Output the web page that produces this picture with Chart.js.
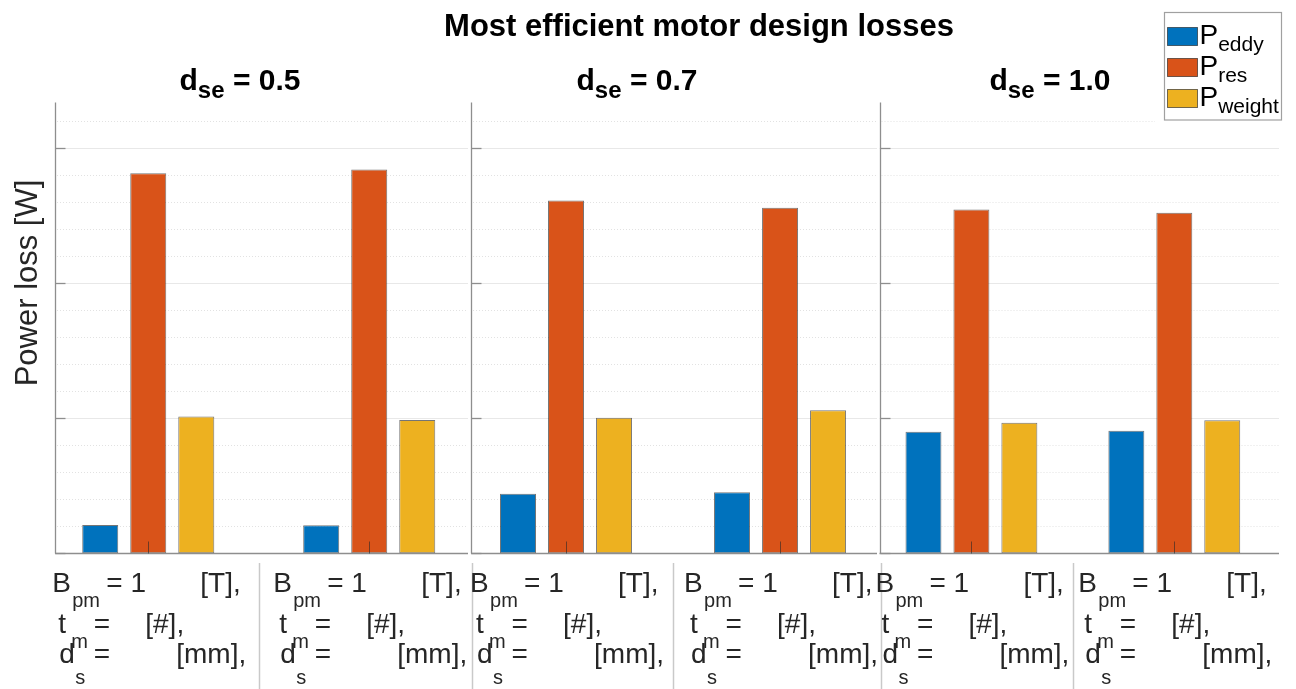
<!DOCTYPE html>
<html>
<head>
<meta charset="utf-8">
<script src="https://cdn.jsdelivr.net/npm/chart.js@4.4.1/dist/chart.umd.min.js"></script>
<style>
  html, body { margin: 0; padding: 0; background: #fff; }
  #wrap { position: relative; width: 1296px; height: 689px; overflow: hidden; background: #fff; }
  #wrap canvas { position: absolute; left: 0; top: 0; }
</style>
</head>
<body>
<div id="wrap">
  <canvas id="panel0" width="1296" height="689"></canvas>
  <canvas id="panel1" width="1296" height="689"></canvas>
  <canvas id="panel2" width="1296" height="689"></canvas>
</div>
<script>
// ---- data -------------------------------------------------------------
// stator end distance of each panel
const dseValues = ['0.5', '0.7', '1.0'];
// which panel each design belongs to (two designs per panel)
const designPanel = [0, 0, 1, 1, 2, 2];
// design index inside its panel (x position on the panel axis)
const designSlot = [1, 2, 1, 2, 1, 2];
// loss components per design [W]
const pEddy   = [1.05, 1.04, 2.21, 2.26, 4.50, 4.54];
const pRes    = [14.08, 14.22, 13.07, 12.80, 12.74, 12.62];
const pWeight = [5.07, 4.94, 5.02, 5.30, 4.84, 4.93];
const seriesSubs = ['eddy', 'res', 'weight'];
// y axis ticks (labels hidden)
const yMajorTicks = [0, 5, 10, 15];
const yMinorTicks = [1, 2, 3, 4, 6, 7, 8, 9, 11, 12, 13, 14, 16];
const yMax = 16.7;
// design tick label rows: symbol, subscript, "=" part, unit
const designLabelRows = [
  ['B', 'pm', '= 1', '[T],'],
  ['t', 'm', '=', '[#],'],
  ['d', 's', '=', '[mm],']
];

// ---- styling / layout ---------------------------------------------------
const FONT = "'Liberation Sans', Arial, Helvetica, sans-serif";
const COLORS = ['#0072BD', '#D95319', '#EDB120'];
const EDGE = 'rgba(25,25,25,0.6)';
const PLOT_TOP = 102.5, PLOT_BOTTOM = 553.3;
const PANELS = [
  { left: 55,    right: 468,  xMin: 0.578, xMax: 2.447, cat: 0.652, titleX: 240 },
  { left: 471,   right: 877,  xMin: 0.556, xMax: 2.453, cat: 0.673, titleX: 637 },
  { left: 879.5, right: 1279, xMin: 0.547, xMax: 2.516, cat: 0.709, titleX: 1050 }
];
const LABEL = {
  main: 28, sub: 20, shift: -96,
  rows: [
    { base: 592, subBase: 607, main: 0, sub: 20, eq: 54,   unit: 148 },
    { base: 633, subBase: 648, main: 6, sub: 19, eq: 41.5, unit: 93 },
    { base: 663, subBase: 684, main: 7, sub: 23, eq: 41.5, unit: 124 }
  ]
};

function line(ctx, x1, y1, x2, y2) {
  ctx.beginPath(); ctx.moveTo(x1, y1); ctx.lineTo(x2, y2); ctx.stroke();
}

// text with a lowered, smaller subscript; returns total width
function subText(ctx, x, y, main, sub, rest, mainPx, subPx, drop, bold, align) {
  const w = bold ? 'bold ' : '';
  const fm = w + mainPx + 'px ' + FONT, fs = w + subPx + 'px ' + FONT;
  ctx.font = fm; const w1 = ctx.measureText(main).width;
  const w3 = rest ? ctx.measureText(rest).width : 0;
  ctx.font = fs; const w2 = ctx.measureText(sub).width;
  const total = w1 + w2 + w3;
  const x0 = align === 'center' ? x - total / 2 : x;
  ctx.textAlign = 'left'; ctx.textBaseline = 'alphabetic';
  ctx.font = fm; ctx.fillText(main, x0, y);
  ctx.font = fs; ctx.fillText(sub, x0 + w1, y + drop);
  if (rest) { ctx.font = fm; ctx.fillText(rest, x0 + w1 + w2, y); }
  return total;
}

function makeDecor(pi) {
  return {
    id: 'decor' + pi,
    // grid: dotted minor lines, solid major lines
    beforeDatasetsDraw(chart) {
      const { ctx, chartArea: a, scales: { y } } = chart;
      ctx.save();
      ctx.lineWidth = 1;
      ctx.strokeStyle = '#e2e2e2';
      ctx.setLineDash([1, 2]);
      yMinorTicks.forEach(v => {
        const py = Math.round(y.getPixelForValue(v)) + 0.5;
        line(ctx, a.left + 2, py, a.right, py);
      });
      ctx.setLineDash([]);
      ctx.strokeStyle = '#e8e8e8';
      yMajorTicks.forEach(v => {
        if (v === 0) return;
        const py = Math.round(y.getPixelForValue(v)) + 0.5;
        line(ctx, a.left, py, a.right, py);
      });
      ctx.restore();
    },
    afterDatasetsDraw(chart) {
      const { ctx, chartArea: a, scales: { x, y } } = chart;
      ctx.save();
      const x0 = Math.round(a.left) + 0.5;
      const yb = Math.round(y.getPixelForValue(0)) + 0.5;
      // axis lines and inward ticks
      ctx.strokeStyle = '#8e8e8e';
      ctx.lineWidth = 1.3;
      line(ctx, x0, a.top, x0, yb);
      line(ctx, a.left, yb, a.right, yb);
      yMajorTicks.forEach(v => {
        const py = Math.round(y.getPixelForValue(v)) + 0.5;
        line(ctx, x0, py, x0 + 10, py);
      });
      ctx.strokeStyle = 'rgba(40,40,40,0.6)';
      ctx.lineWidth = 1;
      x.ticks.forEach(t => {
        const px = Math.round(x.getPixelForValue(t.value)) + 0.5;
        line(ctx, px, yb, px, yb - 12);
      });
      // separators in the label band
      ctx.strokeStyle = '#c9c9c9';
      ctx.lineWidth = 1.5;
      const mid = x.getPixelForValue(1.5);
      line(ctx, Math.round(mid) + 0.5, 563, Math.round(mid) + 0.5, 689);
      if (pi > 0) line(ctx, x0 + 1, 563, x0 + 1, 689);
      // design tick labels
      ctx.fillStyle = '#262626';
      x.ticks.forEach(t => {
        const ox = x.getPixelForValue(t.value) + LABEL.shift;
        designLabelRows.forEach((row, r) => {
          const L = LABEL.rows[r];
          ctx.textAlign = 'left'; ctx.textBaseline = 'alphabetic';
          ctx.font = LABEL.main + 'px ' + FONT;
          ctx.fillText(row[0], ox + L.main, L.base);
          ctx.fillText(row[2], ox + L.eq, L.base);
          ctx.fillText(row[3], ox + L.unit, L.base);
          ctx.font = LABEL.sub + 'px ' + FONT;
          ctx.fillText(row[1], ox + L.sub, L.subBase);
        });
      });
      // panel title
      ctx.fillStyle = '#000';
      subText(ctx, PANELS[pi].titleX, 90, 'd', 'se', ' = ' + dseValues[pi], 30, 24, 8, true, 'center');

      if (pi === 0) {
        ctx.fillStyle = '#000';
        ctx.font = 'bold 31px ' + FONT;
        ctx.textAlign = 'center'; ctx.textBaseline = 'alphabetic';
        ctx.fillText('Most efficient motor design losses', 699, 36);
        ctx.save();
        ctx.translate(36.5, 283);
        ctx.rotate(-Math.PI / 2);
        ctx.fillStyle = '#262626';
        ctx.font = '31px ' + FONT;
        ctx.fillText('Power loss [W]', 0, 0);
        ctx.restore();
      }
      if (pi === 2) {
        // legend
        ctx.fillStyle = '#fff';
        ctx.fillRect(1155, 6, 135, 117);
        ctx.strokeStyle = '#a0a0a0';
        ctx.lineWidth = 1.2;
        ctx.strokeRect(1164.5, 12.5, 117, 107.5);
        chart.data.datasets.forEach((ds, k) => {
          const top = 27.5 + 31 * k;
          ctx.fillStyle = ds.backgroundColor;
          ctx.fillRect(1167.5, top, 30, 18);
          ctx.strokeStyle = EDGE; ctx.lineWidth = 1;
          ctx.strokeRect(1167.5, top, 30, 18);
          ctx.fillStyle = '#000';
          subText(ctx, 1199.5, 44 + 31 * k, 'P', seriesSubs[k], '', 28, 21, 7, false, 'left');
        });
      }
      ctx.restore();
    }
  };
}

PANELS.forEach((P, pi) => {
  const pick = arr => arr
    .map((v, k) => ({ x: designSlot[k], y: v, p: designPanel[k] }))
    .filter(d => d.p === pi)
    .map(d => ({ x: d.x, y: d.y }));
  const series = [pEddy, pRes, pWeight];
  new Chart(document.getElementById('panel' + pi), {
    type: 'bar',
    data: {
      datasets: series.map((arr, k) => ({
        label: 'P' + seriesSubs[k],
        data: pick(arr),
        backgroundColor: COLORS[k],
        borderColor: EDGE,
        borderWidth: 1,
        borderSkipped: false,
        categoryPercentage: P.cat,
        barPercentage: 0.75
      }))
    },
    options: {
      responsive: false,
      animation: false,
      devicePixelRatio: 1,
      layout: { padding: { left: P.left, right: 1296 - P.right, top: PLOT_TOP, bottom: 689 - PLOT_BOTTOM } },
      plugins: { legend: { display: false }, tooltip: { enabled: false }, title: { display: false } },
      scales: {
        x: {
          type: 'linear', display: false, offset: false, min: P.xMin, max: P.xMax,
          afterBuildTicks: s => { s.ticks = [{ value: 1 }, { value: 2 }]; }
        },
        y: { type: 'linear', display: false, min: 0, max: yMax }
      }
    },
    plugins: [makeDecor(pi)]
  });
});
</script>
</body>
</html>
